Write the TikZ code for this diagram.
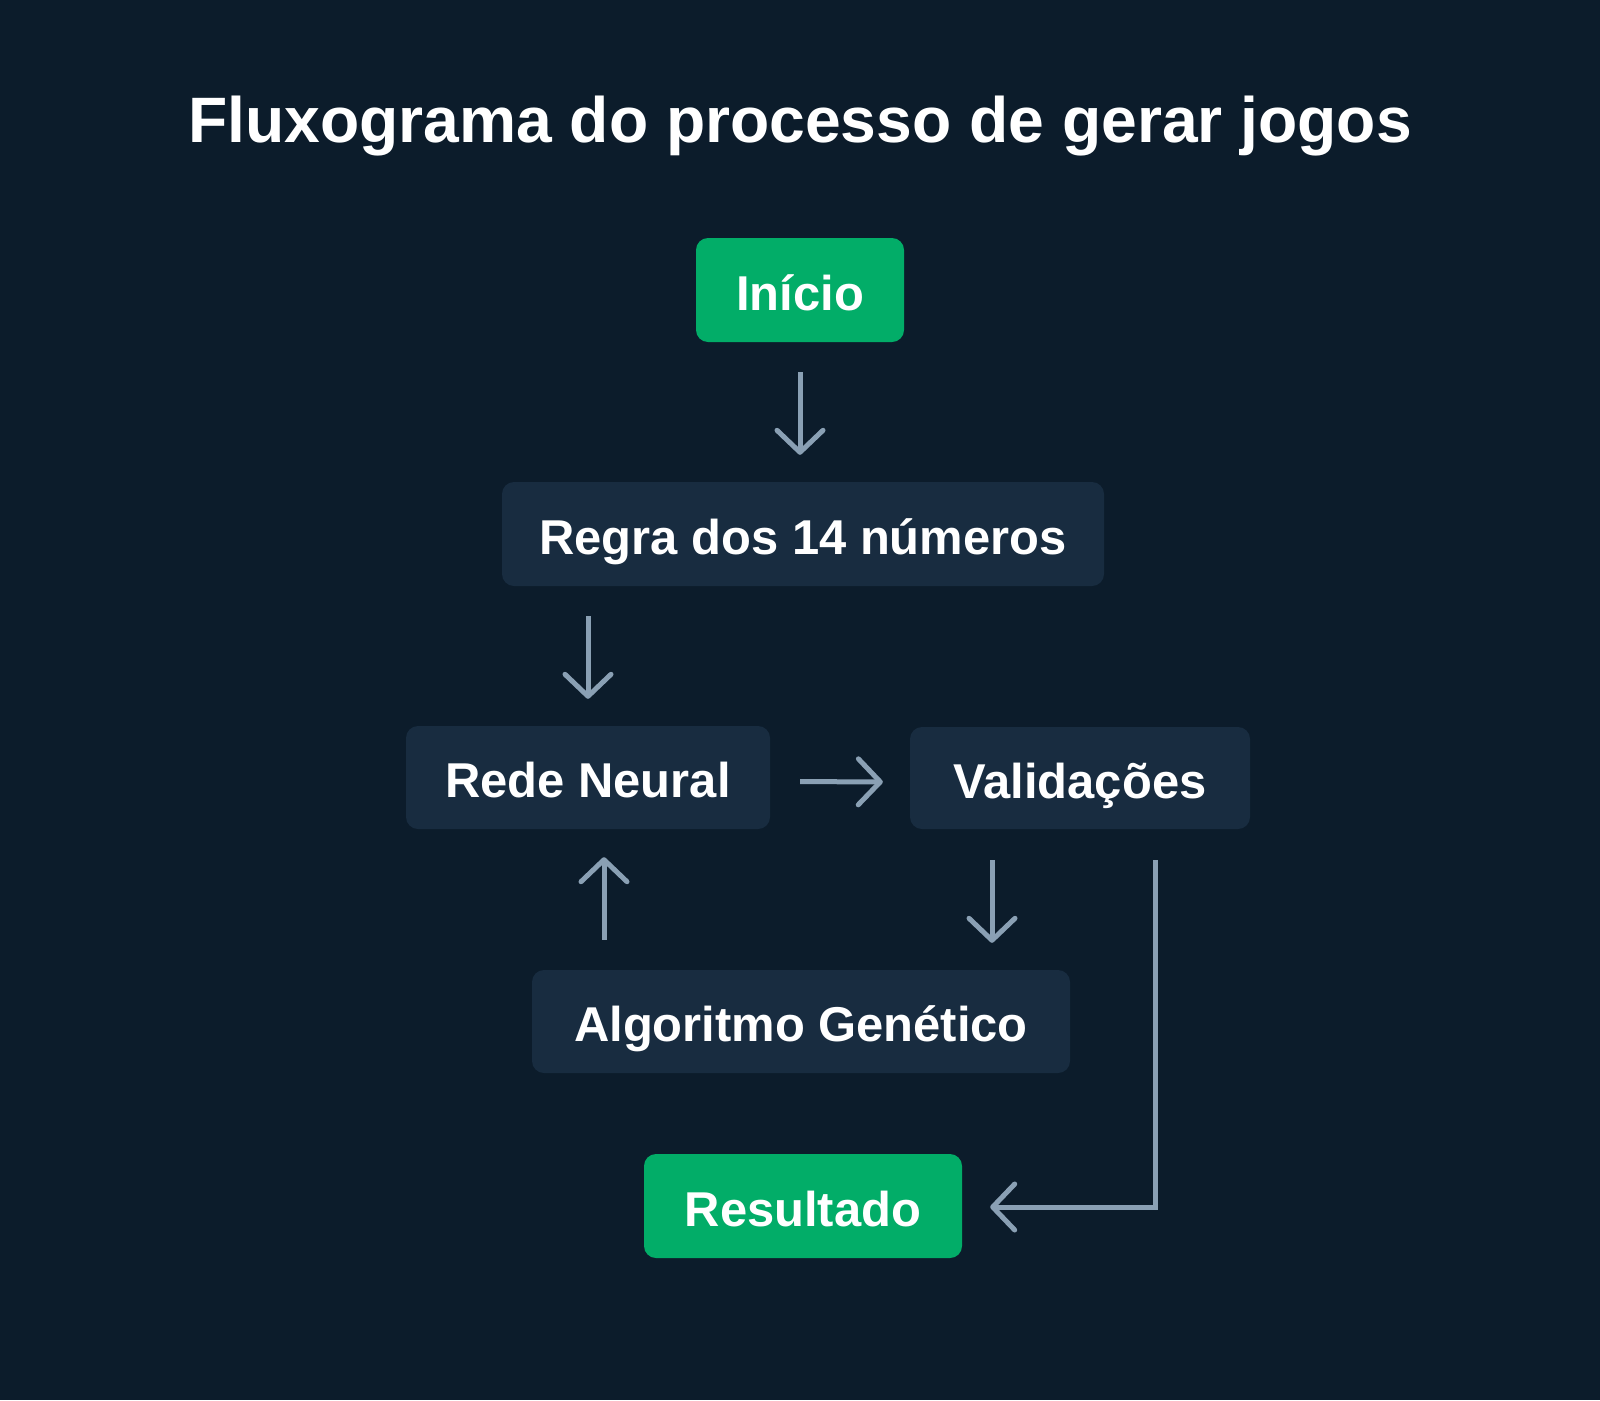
\documentclass[tikz,border=0pt]{standalone}
\usepackage{fontspec}
\setmainfont{Liberation Sans}
\usetikzlibrary{arrows.meta}
\definecolor{bg}{HTML}{0C1C2B}
\definecolor{boxfill}{HTML}{182C40}
\definecolor{greenfill}{HTML}{02AD68}
\definecolor{arrowcol}{HTML}{8AA0B4}
\tikzset{
  boxbase/.style={rounded corners=12pt, inner sep=0pt, text=white,
    font=\bfseries\fontsize{48.9}{56}\selectfont,
    text height=40pt, text depth=0pt, minimum height=104pt},
  darkbox/.style={boxbase, fill=boxfill},
  greenbox/.style={boxbase, fill=greenfill},
  flow/.style={draw=arrowcol, line width=5pt,
    -{Straight Barb[length=22pt, width=46pt, round]}},
}
\begin{document}
\begin{tikzpicture}[x=1pt,y=-1pt]
\fill[bg] (0,0) rectangle (1600,1400);
\useasboundingbox (0,0) rectangle (1600,1400);

\node[anchor=base, text=white, font=\bfseries\fontsize{64.2}{72}\selectfont] (title) at (800,142) {Fluxograma do processo de gerar jogos};

\node[greenbox, minimum width=208pt] (inicio) at (800,290) {Início};
\node[darkbox, minimum width=602pt] (regra) at (803,534) {Regra dos 14 números};
\node[darkbox, minimum width=364pt, minimum height=103pt] (rede) at (588,777.5) {Rede Neural};
\node[darkbox, minimum width=340pt, minimum height=102pt] (val) at (1080,778) {Validações};
\node[darkbox, minimum width=538pt, minimum height=103pt] (algo) at (801,1021.5) {Algoritmo Genético};
\node[greenbox, minimum width=318pt] (res) at (803,1206) {Resultado};

\coordinate (upx) at (604,0);
\coordinate (dnx) at (992,0);
\coordinate (elx) at (1155,0);

\draw[flow, shorten <=30pt, shorten >=27pt] (inicio.south) -- (inicio.south |- regra.north);
\draw[flow, shorten <=30pt, shorten >=27pt] (rede.north |- regra.south) -- (rede.north);
\draw[flow, shorten <=30pt, shorten >=27pt] ([yshift=-4pt]rede.east) -- ([yshift=-4pt]val.west);
\draw[flow, shorten <=30pt, shorten >=28pt] (upx |- algo.north) -- (upx |- rede.south);
\draw[flow, shorten <=31pt, shorten >=27pt] (dnx |- val.south) -- (dnx |- algo.north);
\draw[flow, shorten <=31pt, shorten >=28pt] (elx |- val.south) -- ([yshift=-1pt]elx |- res.east) -- ([yshift=-1pt]res.east);
\end{tikzpicture}
\end{document}
